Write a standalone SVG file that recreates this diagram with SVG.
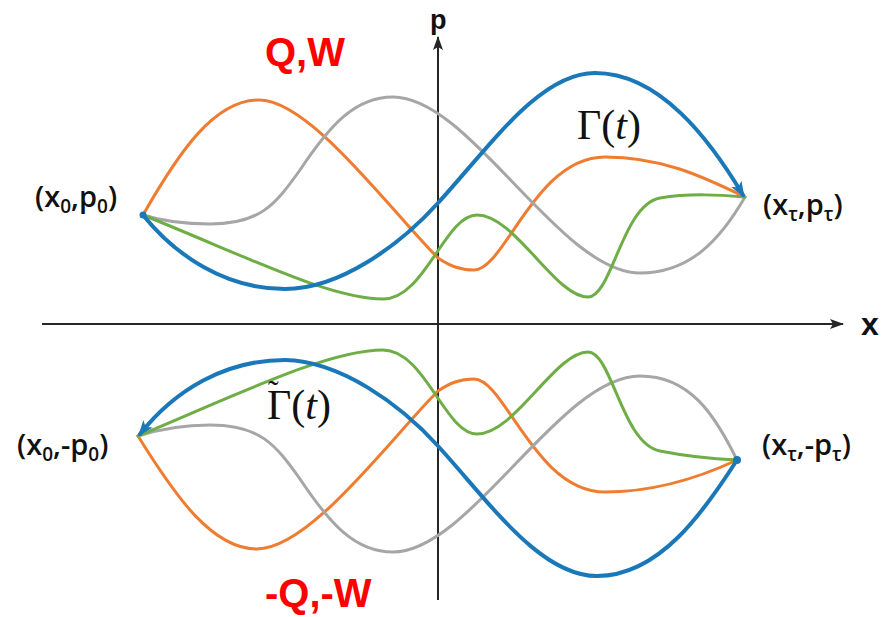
<svg xmlns="http://www.w3.org/2000/svg" width="890" height="617" viewBox="0 0 890 617">
<style>
.crv{fill:none;stroke-linecap:round;stroke-linejoin:round}
.blue{stroke:#1a78b8;stroke-width:4}
.orange{stroke:#ee7d31;stroke-width:3}
.gray{stroke:#a6a6a6;stroke-width:3}
.green{stroke:#6fad46;stroke-width:3}
.axis{fill:none;stroke:#262626;stroke-width:2}
.lbl{font-family:"Open Sans","Liberation Sans",Arial,sans-serif;font-size:29px;font-weight:600;fill:#111}
.sub{font-size:19px}
.red{font-family:"Liberation Sans",Arial,sans-serif;font-size:40px;font-weight:bold;fill:#ff0000}
.ax{font-family:"Liberation Sans",Arial,sans-serif;font-weight:bold;fill:#111}
.math{font-family:"Liberation Serif","Times New Roman",serif;font-size:42px;fill:#111}
</style>
<defs>
<marker id="bArrow" viewBox="0 0 16 12" refX="13" refY="6" markerWidth="16" markerHeight="12" orient="auto-start-reverse" markerUnits="userSpaceOnUse">
<path d="M0,0 L16,6 L0,12 L4,6 z" fill="#1a78b8"/>
</marker>
<marker id="axArrow" viewBox="0 0 14 10" refX="13" refY="5" markerWidth="14" markerHeight="10" orient="auto" markerUnits="userSpaceOnUse">
<path d="M0,0 L14,5 L0,10 L3,5 z" fill="#262626"/>
</marker>
</defs>
<rect width="890" height="617" fill="#ffffff"/>
<g id="axes">
<path class="axis" d="M42,324 L843,324" marker-end="url(#axArrow)"/>
<path class="axis" d="M438,600 L438,37" marker-end="url(#axArrow)"/>
</g>
<g id="connectors">
<path class="crv orange" d="M143,215 C180,150 215,100 259,100 C310,100 390,210 438,258 C450,266 460,270 474,270 C505,270 535,157 605,157 C660,157 700,175 745,197"/>
<path class="crv gray" d="M143,215 C165,222 185,224 210,224 C260,224 275,205 300,170 C330,125 355,97 393,97 C470,97 560,273 640,273 C690,273 720,240 745,197"/>
<path class="crv green" d="M143,215 C250,258 330,299 383,299 C425,299 445,215 477,215 C515,215 555,297 588,297 C612,297 622,205 660,198 C690,193 720,195 745,197"/>
<path class="crv blue" d="M143,215 C175,255 225,289 285,289 C340,289 400,245 438,203 C490,146 540,73 595,73 C660,73 710,140 743,195" marker-end="url(#bArrow)"/>
<circle cx="143" cy="215" r="3.5" fill="#1a78b8"/>
<path class="crv orange" d="M138,436 C177,499 213,549 257,549 C310,549 390,439 438,391 C450,383 460,379 474,379 C505,379 535,492 605,492 C660,492 705,475 737,460"/>
<path class="crv gray" d="M138,436 C160,429 185,425 210,425 C260,425 275,444 300,479 C330,524 355,552 393,552 C470,552 560,376 640,376 C690,376 715,415 737,460"/>
<path class="crv green" d="M138,436 C245,391 330,350 383,350 C425,350 445,434 477,434 C515,434 555,352 588,352 C612,352 622,444 660,451 C690,457 715,459 737,460"/>
<path class="crv blue" d="M140,434 C175,390 225,360 285,360 C340,361 400,404 438,446 C490,503 540,576 597,576 C660,576 705,510 737,460" marker-start="url(#bArrow)"/>
<circle cx="737" cy="460" r="4" fill="#1a78b8"/>
</g>
<g id="label-p"><text class="ax" x="430" y="29" font-size="27">p</text></g>
<g id="label-x"><text class="ax" x="861" y="335" font-size="32">x</text></g>
<g id="label-QW"><text class="red" x="265" y="66">Q,W</text></g>
<g id="label-mQW"><text class="red" x="265" y="607">-Q,-W</text></g>
<g id="label-start"><text class="lbl" x="35" y="207">(x<tspan class="sub" dy="6">0</tspan><tspan dy="-6">,p</tspan><tspan class="sub" dy="6">0</tspan><tspan dy="-6">)</tspan></text></g>
<g id="label-end"><text class="lbl" x="763" y="215">(x<tspan class="sub" dy="6">τ</tspan><tspan dy="-6">,p</tspan><tspan class="sub" dy="6">τ</tspan><tspan dy="-6">)</tspan></text></g>
<g id="label-rstart"><text class="lbl" x="17" y="455">(x<tspan class="sub" dy="6">0</tspan><tspan dy="-6">,-p</tspan><tspan class="sub" dy="6">0</tspan><tspan dy="-6">)</tspan></text></g>
<g id="label-rend"><text class="lbl" x="762" y="455">(x<tspan class="sub" dy="6">τ</tspan><tspan dy="-6">,-p</tspan><tspan class="sub" dy="6">τ</tspan><tspan dy="-6">)</tspan></text></g>
<g id="label-gamma"><text class="math" x="577" y="139">Γ(<tspan font-style="italic">t</tspan>)</text></g>
<g id="label-gamma-tilde"><text class="math"><tspan x="268" y="402" font-size="32">˜</tspan><tspan x="267" y="419">Γ(</tspan><tspan font-style="italic">t</tspan>)</text></g>
</svg>
